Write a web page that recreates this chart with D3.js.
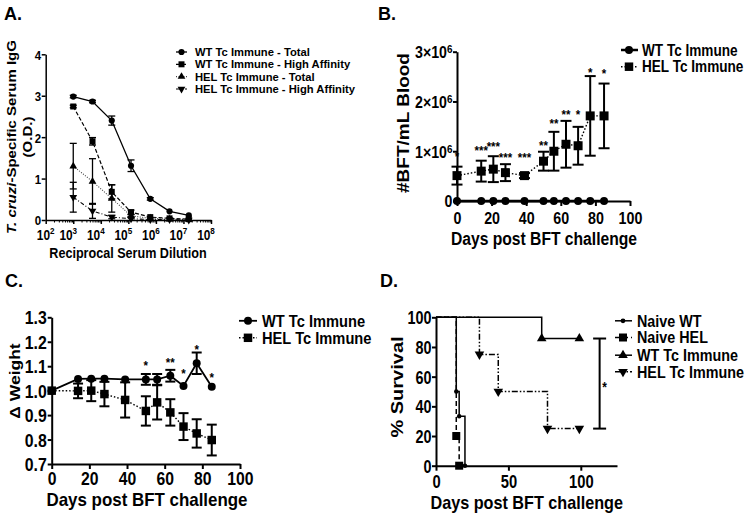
<!DOCTYPE html>
<html><head><meta charset="utf-8">
<script src="https://cdn.jsdelivr.net/npm/d3@7"></script>
<style>
body{margin:0;background:#fff}
svg{display:block;font-family:"Liberation Sans",Arial,sans-serif;font-weight:bold}
</style></head><body>
<svg id="fig" width="750" height="517"></svg>
<script>
// ---------------- Panel A data ----------------
const dilutions   = [1e3, 5e3, 2.5e4, 1.25e5, 6.25e5, 3.125e6, 1.5625e7];
const wtTotal     = [2.98, 2.86, 2.40, 1.31, 0.51, 0.21, 0.11];
const wtTotalErr  = [0.03, 0.03, 0.11, 0.14, 0.03, 0.02, 0.02];
const wtHigh      = [2.74, 1.90, 0.68, 0.19, 0.07, 0.04, 0.02];
const wtHighErr   = [0.03, 0.09, 0.17, 0.05, 0.02, 0.01, 0.01];
const helTotal    = [1.30, 0.93, 0.52, 0.10, 0.04, 0.02, 0.01];
const helTotalErr = [0.55, 0.55, 0.33, 0.03, 0.01, 0.00, 0.00];
const helHigh     = [0.55, 0.22, 0.07, 0.03, 0.01, 0.01, 0.00];
const helHighErr  = [0.36, 0.18, 0.04, 0.01, 0.00, 0.00, 0.00];
const seriesA     = ['WT Tc Immune - Total', 'WT Tc Immune - High Affinity', 'HEL Tc Immune - Total', 'HEL Tc Immune - High Affinity'];
const decadeTicks = [1e2, 1e3, 1e4, 1e5, 1e6, 1e7, 1e8];
const odTicks     = [0, 1, 2, 3, 4];

// ---------------- Panel B data ----------------
const daysB     = [0, 14, 21, 28, 39, 50, 56, 63, 70, 77, 85];
const bftWT     = [0, 0, 0, 0, 0, 0, 0, 0, 0, 0, 0];
const bftHEL    = [510000, 600000, 640000, 570000, 510000, 800000, 1000000, 1140000, 1110000, 1710000, 1710000];
const bftHELErr = [180000, 210000, 260000, 170000, 50000, 190000, 390000, 470000, 380000, 800000, 650000];
const starsB    = ['*', '***', '***', '***', '***', '**', '**', '**', '*', '*', '*'];
const starsBY   = [960000, 1070000, 1160000, 940000, 940000, 1170000, 1620000, 1790000, 1800000, 2650000, 2620000];
const seriesB   = ['WT Tc Immune', 'HEL Tc Immune'];
const bftTicks  = [0, 1000000, 2000000, 3000000];
const dayTicks  = [0, 20, 40, 60, 80, 100];

// ---------------- Panel C data ----------------
const daysC       = [0, 14, 21, 28, 39, 50, 56, 63, 70, 77, 85];
const wtWeight    = [1.000, 1.048, 1.049, 1.049, 1.046, 1.046, 1.046, 1.061, 1.019, 1.112, 1.016];
const wtWeightErr = [0, 0, 0, 0, 0, 0.022, 0.022, 0.024, 0, 0.044, 0];
const helWeight   = [1.000, 0.999, 1.000, 0.986, 0.962, 0.917, 0.952, 0.911, 0.853, 0.825, 0.798];
const helWeightErr= [0, 0.030, 0.043, 0.050, 0.072, 0.060, 0.070, 0.054, 0.055, 0.058, 0.063];
const starsCDays  = [50, 63, 70, 77, 85];
const starsC      = ['*', '**', '*', '*', '*'];
const starsCY     = [1.116, 1.126, 1.081, 1.180, 1.068];
const weightTicks = [0.7, 0.8, 0.9, 1.0, 1.1, 1.2, 1.3];

// ---------------- Panel D data ----------------
const naiveWTDays  = [0, 14, 16, 20];
const naiveWTSurv  = [100, 50, 33.3, 0];
const naiveHELDays = [0, 14, 16];
const naiveHELSurv = [100, 20, 0];
const wtImmDays    = [0, 73, 99];
const wtImmSurv    = [100, 85.7, 85.7];
const helImmDays   = [0, 30, 43, 77, 99];
const helImmSurv   = [100, 75, 50, 25, 25];
const seriesD      = ['Naive WT', 'Naive HEL', 'WT Tc Immune', 'HEL Tc Immune'];
const sigD         = {day: 113, from: 85.7, to: 25, label: '*'};
const survTicks    = [0, 20, 40, 60, 80, 100];
const survDayTicks = [0, 50, 100];

// ---------------- helpers ----------------
const svg = d3.select('#fig');
const K = 0.85;
const SYM = {circle: d3.symbolCircle, square: d3.symbolSquare, up: d3.symbolTriangle, down: d3.symbolTriangle};

function htext(g, x, y, str, size, anchor = 'start', sx = K) {
  return g.append('text').attr('transform', `translate(${x},${y}) scale(${sx},1)`)
    .attr('text-anchor', anchor).attr('font-size', size).attr('fill', '#000').text(str);
}
function vtext(g, x, y, str, size, sy = K) {
  return g.append('text').attr('transform', `translate(${x},${y}) rotate(-90) scale(1,${sy})`)
    .attr('text-anchor', 'middle').attr('font-size', size).attr('fill', '#000').text(str);
}
function marker(g, type, x, y, size) {
  g.append('path').attr('d', d3.symbol(SYM[type], size)())
    .attr('transform', `translate(${x},${y})` + (type === 'down' ? ' rotate(180)' : ''))
    .attr('fill', '#000');
}
function errbar(g, x, y0, y1, cap, sw) {
  g.append('line').attr('x1', x).attr('x2', x).attr('y1', y0).attr('y2', y1).attr('stroke', '#000').attr('stroke-width', sw);
  [y0, y1].forEach(y => g.append('line').attr('x1', x - cap / 2).attr('x2', x + cap / 2).attr('y1', y).attr('y2', y)
    .attr('stroke', '#000').attr('stroke-width', sw));
}
function styleAxis(a, o) {
  a.attr('font-family', null).attr('font-size', null);
  a.select('.domain').attr('stroke-width', o.sw).attr('stroke', '#000');
  a.selectAll('.tick line').attr('stroke-width', o.sw).attr('stroke', '#000');
  const t = a.selectAll('.tick text').attr('fill', '#000').attr('font-size', o.fs).attr('font-weight', 'bold');
  if (o.side === 'bottom') t.attr('y', o.off).attr('dy', null).attr('transform', `scale(${o.sx},1)`);
  else t.attr('x', -o.off / o.sx).attr('dy', '0.36em').attr('transform', `scale(${o.sx},1)`);
}
function path(g, pts, style, curve) {
  const ln = d3.line().x(d => d[0]).y(d => d[1]);
  if (curve) ln.curve(curve);
  g.append('path').attr('d', ln(pts)).attr('fill', 'none').attr('stroke', style.color || '#000')
    .attr('stroke-width', style.w).attr('stroke-dasharray', style.dash || null);
}
function legendRow(g, L, y, style, sym, size, label, fs, sx) {
  path(g, [[L.x0, y], [L.x1, y]], style);
  marker(g, sym, L.xm, y, size);
  htext(g, L.xt, y + fs * 0.36, label, fs, 'start', sx);
}

// ================= Panel A =================
const gA = svg.append('g');
htext(gA, 4, 20, 'A.', 18, 'start', 1);
const xA = d3.scaleLog().domain([1e2, 1e8]).range([45.7, 211]);
const yA = d3.scaleLinear().domain([0, 4]).range([220, 54.3]);
const minorA = [];
decadeTicks.slice(0, -1).forEach(d => { for (let m = 2; m < 10; m++) minorA.push(d * m); });
const axAx = gA.append('g').attr('transform', `translate(0,${yA(0)})`)
  .call(d3.axisBottom(xA).tickValues(decadeTicks).tickSize(4).tickSizeOuter(0).tickFormat(''));
styleAxis(axAx, {sw: 1.5, fs: 13, side: 'bottom', off: 20, sx: K});
const axAm = gA.append('g').attr('transform', `translate(0,${yA(0)})`)
  .call(d3.axisBottom(xA).tickValues(minorA).tickSize(2.5).tickFormat(''));
axAm.select('.domain').remove();
axAm.selectAll('.tick line').attr('stroke', '#000').attr('stroke-width', 1);
decadeTicks.forEach((d, i) => {
  const t = htext(gA, xA(d) + (i ? -5 : 0), yA(0) + 20, '', 14, 'middle', K);
  t.append('tspan').text('10');
  t.append('tspan').attr('dy', -6).attr('font-size', 9.5).text(Math.round(Math.log10(d)));
});
const axAy = gA.append('g').attr('transform', `translate(${xA(1e2)},0)`)
  .call(d3.axisLeft(yA).tickValues(odTicks).tickSize(4).tickSizeOuter(0).tickFormat(d3.format('d')));
styleAxis(axAy, {sw: 1.5, fs: 13.5, side: 'left', off: 4.5, sx: K});
htext(gA, 128, 258, 'Reciprocal Serum Dilution', 14, 'middle', 0.9);
const yl1 = vtext(gA, 16, 137, '', 15, 0.8);
yl1.append('tspan').attr('font-style', 'italic').text('T. cruzi');
yl1.append('tspan').text('-Specific Serum IgG');
vtext(gA, 32, 137, '(O.D.)', 15, 0.8);

const stylesA = [{w: 1.3}, {w: 1.2, dash: '4,2'}, {w: 1.1, dash: '1,1.5', color: '#444'}, {w: 1.1, dash: '4,2,1,2'}];
const symsA = ['circle', 'square', 'up', 'down'];
const sizesA = [30, 36, 26, 26];
const valsA = [wtTotal, wtHigh, helTotal, helHigh];
const errsA = [wtTotalErr, wtHighErr, helTotalErr, helHighErr];
valsA.forEach((vals, s) => path(gA, dilutions.map((d, i) => [xA(d), yA(vals[i])]), stylesA[s]));
valsA.forEach((vals, s) => dilutions.forEach((d, i) => {
  const e = errsA[s][i];
  if (e >= 0.03) errbar(gA, xA(d), yA(Math.max(0, vals[i] - e)), yA(vals[i] + e), 7, 1.3);
}));
valsA.forEach((vals, s) => dilutions.forEach((d, i) => marker(gA, symsA[s], xA(d), yA(vals[i]), sizesA[s])));
const LA = {x0: 176, x1: 187, xm: 181.5, xt: 195};
[52, 64.3, 76.6, 89].forEach((y, s) => legendRow(gA, LA, y, stylesA[s], symsA[s], sizesA[s], seriesA[s], 11, 1.02));

// ================= Panel B =================
const gB = svg.append('g');
htext(gB, 378, 20, 'B.', 18, 'start', 1);
const xB = d3.scaleLinear().domain([0, 100]).range([457, 630]);
const yB = d3.scaleLinear().domain([0, 3000000]).range([201, 51.7]);
const axBx = gB.append('g').attr('transform', `translate(0,${yB(0)})`)
  .call(d3.axisBottom(xB).tickValues(dayTicks).tickSize(5).tickSizeOuter(0));
styleAxis(axBx, {sw: 2, fs: 17, side: 'bottom', off: 23.5, sx: 0.84});
const axBy = gB.append('g').attr('transform', `translate(${xB(0)},0)`)
  .call(d3.axisLeft(yB).tickValues(bftTicks).tickSize(4).tickSizeOuter(0));
styleAxis(axBy, {sw: 2, fs: 16.5, side: 'left', off: 4.5, sx: 0.86});
axBy.selectAll('.tick text').each(function (d) {
  const s = d3.select(this);
  s.text(null);
  if (d === 0) { s.text('0'); return; }
  s.append('tspan').text(`${d / 1000000}×10`);
  s.append('tspan').attr('dy', '-0.45em').attr('font-size', 11.5).text('6');
});
htext(gB, 544, 244.5, 'Days post BFT challenge', 18, 'middle', 0.87);
vtext(gB, 408.5, 123, '#BFT/mL Blood', 19, 0.82);
const stylesB = [{w: 2.5}, {w: 1.4, dash: '1.5,2'}];
path(gB, daysB.map((d, i) => [xB(d), yB(bftWT[i])]), stylesB[0]);
path(gB, daysB.map((d, i) => [xB(d), yB(bftHEL[i])]), stylesB[1]);
daysB.forEach((d, i) => errbar(gB, xB(d), yB(bftHEL[i] - bftHELErr[i]), yB(bftHEL[i] + bftHELErr[i]), 11, 2));
daysB.forEach((d, i) => marker(gB, 'circle', xB(d), yB(bftWT[i]), 50));
daysB.forEach((d, i) => marker(gB, 'square', xB(d), yB(bftHEL[i]), 81));
daysB.forEach((d, i) => htext(gB, xB(d), yB(starsBY[i]) + 7.5, starsB[i], 13.5, 'middle', 0.85));
const LB = {x0: 621, x1: 638, xm: 629, xt: 642};
legendRow(gB, LB, 50, stylesB[0], 'circle', 50, seriesB[0], 16, 0.85);
legendRow(gB, LB, 66.7, stylesB[1], 'square', 72, seriesB[1], 16, 0.85);

// ================= Panel C =================
const gC = svg.append('g');
htext(gC, 5, 287, 'C.', 18, 'start', 1);
const xC = d3.scaleLinear().domain([0, 100]).range([51.7, 240]);
const yC = d3.scaleLinear().domain([0.7, 1.3]).range([464, 317.3]);
const axCx = gC.append('g').attr('transform', `translate(0,${yC(0.7)})`)
  .call(d3.axisBottom(xC).tickValues(dayTicks).tickSize(5).tickSizeOuter(0));
styleAxis(axCx, {sw: 2, fs: 17.5, side: 'bottom', off: 21.5, sx: 0.9});
const axCy = gC.append('g').attr('transform', `translate(${xC(0)},0)`)
  .call(d3.axisLeft(yC).tickValues(weightTicks).tickSize(4).tickSizeOuter(0).tickFormat(d3.format('.1f')));
styleAxis(axCy, {sw: 2, fs: 18, side: 'left', off: 5, sx: 0.88});
htext(gC, 147, 505.8, 'Days post BFT challenge', 18, 'middle', 0.94);
vtext(gC, 20, 381, 'Δ Weight', 17.5, 0.85);
const stylesC = [{w: 1.8}, {w: 1.4, dash: '1.5,2'}];
path(gC, daysC.map((d, i) => [xC(d), yC(wtWeight[i])]), stylesC[0]);
path(gC, daysC.map((d, i) => [xC(d), yC(helWeight[i])]), stylesC[1]);
daysC.forEach((d, i) => { if (helWeightErr[i] > 0) errbar(gC, xC(d), yC(helWeight[i] - helWeightErr[i]), yC(helWeight[i] + helWeightErr[i]), 10, 2); });
daysC.forEach((d, i) => { if (wtWeightErr[i] > 0) errbar(gC, xC(d), yC(wtWeight[i] - wtWeightErr[i]), yC(wtWeight[i] + wtWeightErr[i]), 10, 2); });
daysC.forEach((d, i) => marker(gC, 'square', xC(d), yC(helWeight[i]), 72));
daysC.forEach((d, i) => marker(gC, 'circle', xC(d), yC(wtWeight[i]), 50));
starsCDays.forEach((d, i) => htext(gC, xC(d), yC(starsCY[i]) + 7.5, starsC[i], 13.5, 'middle', 0.85));
const LC = {x0: 239, x1: 257, xm: 248, xt: 262};
legendRow(gC, LC, 320.8, stylesC[0], 'circle', 50, seriesB[0], 16.3, 0.9);
legendRow(gC, LC, 337.8, stylesC[1], 'square', 72, seriesB[1], 16.3, 0.9);

// ================= Panel D =================
const gD = svg.append('g');
htext(gD, 380, 287, 'D.', 18, 'start', 1);
const xD = d3.scaleLinear().domain([0, 125]).range([436, 617]);
const yD = d3.scaleLinear().domain([0, 100]).range([465.7, 317.3]);
const axDx = gD.append('g').attr('transform', `translate(0,${yD(0)})`)
  .call(d3.axisBottom(xD).tickValues(survDayTicks).tickSize(5).tickSizeOuter(0));
styleAxis(axDx, {sw: 2, fs: 18, side: 'bottom', off: 22.3, sx: 0.82});
const axDy = gD.append('g').attr('transform', `translate(${xD(0)},0)`)
  .call(d3.axisLeft(yD).tickValues(survTicks).tickSize(4).tickSizeOuter(0));
styleAxis(axDy, {sw: 2, fs: 18, side: 'left', off: 4.5, sx: 0.8});
htext(gD, 526.7, 508.5, 'Days post BFT challenge', 18, 'middle', 0.9);
vtext(gD, 403, 387, '% Survival', 20, 0.85);
const stylesD = [{w: 1.5}, {w: 1.5, dash: '5,3'}, {w: 1.5}, {w: 1.5, dash: '6,2,1.5,2,1.5,2'}];
const symsD = ['circle', 'square', 'up', 'down'];
const sizesD = [16, 64, 40, 40];
const survD = [[naiveWTDays, naiveWTSurv], [naiveHELDays, naiveHELSurv], [wtImmDays, wtImmSurv], [helImmDays, helImmSurv]];
survD.forEach(([days, surv], s) => path(gD, days.map((d, i) => [xD(d), yD(surv[i])]), stylesD[s], d3.curveStepAfter));
survD.forEach(([days, surv], s) => days.forEach((d, i) => { if (i > 0) marker(gD, symsD[s], xD(d), yD(surv[i]), sizesD[s]); }));
// significance bracket
path(gD, [[xD(sigD.day), yD(sigD.from)], [xD(sigD.day), yD(sigD.to)]], {w: 2});
[sigD.from, sigD.to].forEach(v => path(gD, [[xD(sigD.day) - 6.5, yD(v)], [xD(sigD.day) + 6.5, yD(v)]], {w: 2}));
htext(gD, xD(sigD.day) + 5, yD(54.5) + 7.5, sigD.label, 14, 'middle', 0.85);
const LD = {x0: 615, x1: 632, xm: 623, xt: 637};
[320.8, 337.5, 355.2, 371.7].forEach((y, s) => legendRow(gD, LD, y, stylesD[s], symsD[s], s === 0 ? 18 : sizesD[s], seriesD[s], 16.3, 0.88));
</script>
</body></html>
